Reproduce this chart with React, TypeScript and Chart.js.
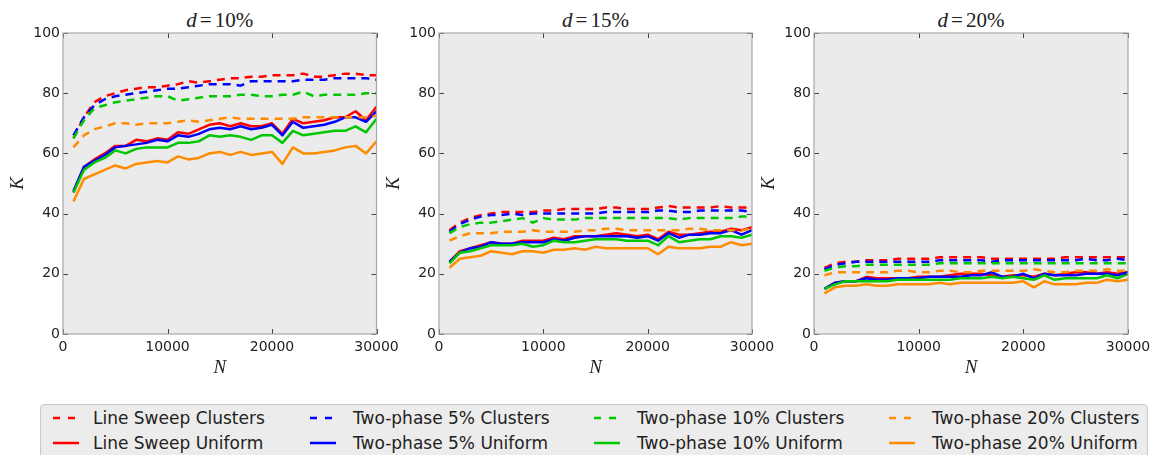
import React, { useEffect, useRef } from "react";
import { Chart, registerables } from "chart.js";

Chart.register(...registerables);

// ---------- data ----------
const N_VALUES = [
  1000, 2000, 3000, 4000, 5000, 6000, 7000, 8000, 9000, 10000,
  11000, 12000, 13000, 14000, 15000, 16000, 17000, 18000, 19000, 20000,
  21000, 22000, 23000, 24000, 25000, 26000, 27000, 28000, 29000, 30000,
];

const SERIES_LABELS = [
  "Line Sweep Clusters",
  "Line Sweep Uniform",
  "Two-phase 5% Clusters",
  "Two-phase 5% Uniform",
  "Two-phase 10% Clusters",
  "Two-phase 10% Uniform",
  "Two-phase 20% Clusters",
  "Two-phase 20% Uniform",
];
const SERIES_COLORS = ["#ff0000", "#ff0000", "#0000ff", "#0000ff", "#00c800", "#00c800", "#ff8c00", "#ff8c00"];
const SERIES_DASHED = [true, false, true, false, true, false, true, false];

const PANEL_TITLES = ["10%", "15%", "20%"];
const X_TICKS = [0, 10000, 20000, 30000];
const Y_TICKS = [0, 20, 40, 60, 80, 100];

// d = 10%
const LS_CLUSTERS_10 = [65, 72, 77, 79, 80, 81, 81.5, 82, 82, 82.5, 83, 84, 83.5, 84, 84.5, 85, 85, 85.5, 85.5, 86, 86, 86, 86.5, 85.5, 85.5, 86, 86.5, 86.5, 86, 86];
const LS_UNIFORM_10 = [47, 55.5, 58, 60, 62.5, 62.5, 64.5, 64, 65, 64.5, 67, 66.5, 68, 69.5, 70, 69, 70, 69, 69, 70, 66.5, 71.5, 70, 70.5, 71, 72, 72, 74, 71, 75.5];
const TP5_CLUSTERS_10 = [66, 72, 76, 78, 79, 79.5, 80, 80.5, 81, 81.5, 81.5, 82, 82.5, 83, 83, 83, 82.5, 84, 84, 84, 84, 84, 84.5, 84.5, 84.5, 85, 85, 85, 85, 84.5];
const TP5_UNIFORM_10 = [47.5, 55.5, 57.5, 59.5, 62, 62.5, 63, 63.5, 64.5, 64, 66, 65.5, 66.5, 68, 68.5, 68, 69, 68, 68.5, 69.5, 66, 70.5, 68.5, 69, 69.5, 70.5, 72, 72, 70.5, 74];
const TP10_CLUSTERS_10 = [65, 71, 75, 76, 77, 77.5, 78, 78.5, 79, 79, 77.5, 78, 78.5, 79, 79, 79, 79.5, 79.5, 79, 79, 79.5, 79.5, 80.5, 79, 79.5, 79.5, 79.5, 79.5, 80, 80];
const TP10_UNIFORM_10 = [47, 54.5, 57, 58.5, 61, 60, 61.5, 62, 62, 62, 63.5, 63.5, 64, 66, 65.5, 66, 65.5, 64.5, 66, 66, 63.5, 67.5, 66, 66.5, 67, 67.5, 67.5, 69, 67, 71.5];
const TP20_CLUSTERS_10 = [62, 66, 68, 69, 70, 70, 69.5, 70, 70, 70, 70.5, 71, 70.5, 71, 71.5, 72, 71.5, 71.5, 71.5, 71.5, 71.5, 71.5, 72, 72, 72, 72, 72, 72, 72, 72.5];
const TP20_UNIFORM_10 = [44, 51.5, 53, 54.5, 56, 55, 56.5, 57, 57.5, 57, 59, 58, 58.5, 60, 60.5, 59.5, 60.5, 59.5, 60, 60.5, 56.5, 62, 60, 60, 60.5, 61, 62, 62.5, 60, 64];

// d = 15%
const LS_CLUSTERS_15 = [34.5, 37, 38.5, 39.5, 40, 40.5, 40.5, 40.5, 40.5, 41, 41, 41.5, 41.5, 41.5, 41.5, 42, 42, 41.5, 41.5, 41.5, 42, 42.5, 42, 42, 42, 42, 42.5, 42, 42, 42];
const LS_UNIFORM_15 = [24, 27.5, 28.5, 29.5, 30.5, 30, 30, 31, 31, 31, 32, 31.5, 32.5, 32.5, 32.5, 33, 33.5, 33, 32.5, 33, 31.5, 34, 33, 33, 33.5, 34, 34, 35, 34.5, 35.5];
const TP5_CLUSTERS_15 = [34, 36.5, 38, 39, 39.5, 39.5, 40, 39.5, 40, 40, 40, 40, 40, 40, 40, 40.5, 40.5, 40.5, 40.5, 40.5, 41, 41, 40.5, 40.5, 41, 41, 41, 41, 41, 40.5];
const TP5_UNIFORM_15 = [24, 27, 28.5, 29, 30.5, 30, 30, 30.5, 30.5, 30.5, 31.5, 31, 32, 32.5, 32.5, 32.5, 32.5, 32.5, 32, 32.5, 31, 33.5, 32, 33, 33, 33.5, 33.5, 34.5, 33, 34.5];
const TP10_CLUSTERS_15 = [33.5, 35.5, 36.5, 37, 37, 37.5, 38, 38.5, 37, 38.5, 38, 38, 38, 38.5, 38.5, 38.5, 38.5, 38.5, 38.5, 38.5, 38.5, 38.5, 38, 38.5, 38.5, 38.5, 38.5, 38.5, 39, 39];
const TP10_UNIFORM_15 = [23.5, 27, 27.5, 28.5, 29.5, 29.5, 29.5, 30, 29, 29.5, 31, 30.5, 30.5, 31, 31.5, 31.5, 31.5, 31, 31, 31, 29.5, 32.5, 30.5, 31, 31.5, 31.5, 32.5, 32.5, 32, 33];
const TP20_CLUSTERS_15 = [31, 32.5, 33.5, 33.5, 33.5, 34, 34, 34, 34.5, 34, 34, 34, 34, 34.5, 34.5, 35, 35, 34.5, 34.5, 34.5, 34.5, 34.5, 34.5, 35, 35, 34.5, 34.5, 34.5, 34.5, 35];
const TP20_UNIFORM_15 = [22, 25, 25.5, 26, 27.5, 27, 26.5, 27.5, 27.5, 27, 28, 28, 28.5, 28, 29, 28.5, 28.5, 28.5, 28.5, 28.5, 26.5, 29, 28.5, 28.5, 28.5, 29, 29, 30.5, 29.5, 30];

// d = 20%
const LS_CLUSTERS_20 = [22, 23.5, 24, 24, 24.5, 24.5, 24.5, 25, 25, 25, 25, 25.5, 25.5, 25.5, 25.5, 25.5, 25, 25, 25, 25, 25, 25, 25, 25.5, 25.5, 25.5, 25.5, 25.5, 25.5, 25.5];
const LS_UNIFORM_20 = [15, 17, 17.5, 17.5, 19, 18.5, 18.5, 18.5, 18.5, 19, 19, 19, 19.5, 20, 20, 20, 19.5, 19, 19.5, 19.5, 19, 20, 19.5, 20, 20.5, 20.5, 20, 20.5, 20, 20.5];
const TP5_CLUSTERS_20 = [21.5, 23, 23.5, 24, 24, 24, 24, 24, 24, 24, 24, 24.5, 24.5, 24.5, 24.5, 24.5, 24, 24.5, 24.5, 24.5, 24.5, 24.5, 24.5, 24.5, 24.5, 25, 24.5, 24.5, 25, 24.5];
const TP5_UNIFORM_20 = [15, 17, 17.5, 17.5, 18.5, 18, 18, 18.5, 18.5, 18.5, 19, 19, 19, 19, 19.5, 19.5, 20.5, 19, 19, 20, 18.5, 20, 19.5, 19.5, 19.5, 20, 20, 20, 19.5, 20.5];
const TP10_CLUSTERS_20 = [21, 22, 22.5, 22.5, 23, 23, 23, 23, 23, 23, 23, 23.5, 23.5, 23.5, 23.5, 23.5, 23.5, 23.5, 23.5, 23.5, 23.5, 23.5, 23.5, 23.5, 23.5, 23.5, 23.5, 23.5, 23.5, 23.5];
const TP10_UNIFORM_20 = [15, 16.5, 17.5, 17.5, 17.5, 17.5, 17.5, 18, 18, 18, 18, 18, 18, 18.5, 18.5, 18.5, 19, 18.5, 19, 18.5, 18, 19.5, 18, 18.5, 18.5, 18.5, 18.5, 19.5, 18.5, 20];
const TP20_CLUSTERS_20 = [19.5, 20.5, 20.5, 20.5, 20.5, 20.5, 20.5, 21, 21, 20.5, 20.5, 21, 21, 20.5, 20.5, 21, 21, 21, 21, 21, 21.5, 21, 20.5, 20.5, 21, 21, 21, 21.5, 21, 21];
const TP20_UNIFORM_20 = [13.5, 15.5, 16, 16, 16.5, 16, 16, 16.5, 16.5, 16.5, 16.5, 17, 16.5, 17, 17, 17, 17, 17, 17, 17.5, 15.5, 17.5, 16.5, 16.5, 16.5, 17, 17, 18, 17.5, 18];

const PANEL_SERIES = [
  [LS_CLUSTERS_10, LS_UNIFORM_10, TP5_CLUSTERS_10, TP5_UNIFORM_10, TP10_CLUSTERS_10, TP10_UNIFORM_10, TP20_CLUSTERS_10, TP20_UNIFORM_10],
  [LS_CLUSTERS_15, LS_UNIFORM_15, TP5_CLUSTERS_15, TP5_UNIFORM_15, TP10_CLUSTERS_15, TP10_UNIFORM_15, TP20_CLUSTERS_15, TP20_UNIFORM_15],
  [LS_CLUSTERS_20, LS_UNIFORM_20, TP5_CLUSTERS_20, TP5_UNIFORM_20, TP10_CLUSTERS_20, TP10_UNIFORM_20, TP20_CLUSTERS_20, TP20_UNIFORM_20],
];

// ---------- layout / style ----------
const W = 1155;
const H = 455;
const PLOT_TOP = 33;
const PLOT_BOTTOM = 334;
const PANEL_X = [
  [63, 376.5],
  [439, 752],
  [814, 1128],
];
const Y_AXIS_W = 56;
const X_AXIS_H = 45;
const BG = "#ebebeb";
const FRAME = "#a8a8a8";
const TICK_COLOR = "#444444";
const TEXT = "#222222";
const DASH = [8, 6];
const LINE_W = 2.5;

const framePlugin = {
  id: "mplFrame",
  beforeDatasetsDraw(chart: any) {
    const { ctx, chartArea: a } = chart;
    ctx.save();
    ctx.fillStyle = BG;
    ctx.fillRect(a.left, a.top, a.right - a.left, a.bottom - a.top);
    ctx.restore();
  },
  afterDatasetsDraw(chart: any) {
    const { ctx, chartArea: a, scales } = chart;
    ctx.save();
    ctx.strokeStyle = TICK_COLOR;
    ctx.lineWidth = 1;
    ctx.beginPath();
    const tl = 5;
    scales.x.ticks.forEach((t: any) => {
      const px = Math.round(scales.x.getPixelForValue(t.value)) + 0.5;
      ctx.moveTo(px, a.bottom);
      ctx.lineTo(px, a.bottom - tl);
      ctx.moveTo(px, a.top);
      ctx.lineTo(px, a.top + tl);
    });
    scales.y.ticks.forEach((t: any) => {
      const py = Math.round(scales.y.getPixelForValue(t.value)) + 0.5;
      ctx.moveTo(a.left, py);
      ctx.lineTo(a.left + tl, py);
      ctx.moveTo(a.right, py);
      ctx.lineTo(a.right - tl, py);
    });
    ctx.stroke();
    ctx.strokeStyle = FRAME;
    ctx.lineWidth = 1.2;
    ctx.strokeRect(a.left, a.top, a.right - a.left, a.bottom - a.top);
    ctx.restore();
  },
};

function Panel({ index }: { index: number }) {
  const ref = useRef<HTMLCanvasElement | null>(null);
  useEffect(() => {
    if (!ref.current) return;
    const [left, right] = PANEL_X[index];
    const series = PANEL_SERIES[index];
    const datasets = series
      .map((vals, i) => ({
        label: SERIES_LABELS[i],
        data: vals.map((v, j) => ({ x: N_VALUES[j], y: v })),
        borderColor: SERIES_COLORS[i],
        backgroundColor: SERIES_COLORS[i],
        borderWidth: LINE_W,
        borderDash: SERIES_DASHED[i] ? DASH : [],
        pointRadius: 0,
        tension: 0,
        fill: false,
        borderCapStyle: "butt",
        borderJoinStyle: "round",
      }))
      .reverse();
    const chart = new Chart(ref.current, {
      type: "line",
      data: { datasets } as any,
      options: {
        animation: false,
        responsive: false,
        devicePixelRatio: 1,
        events: [],
        layout: {
          padding: {
            left: left - Y_AXIS_W,
            right: W - right,
            top: PLOT_TOP,
            bottom: H - PLOT_BOTTOM - X_AXIS_H,
          },
        },
        plugins: { legend: { display: false }, tooltip: { enabled: false }, title: { display: false } },
        scales: {
          x: {
            type: "linear",
            min: 0,
            max: 30000,
            afterBuildTicks: (s: any) => {
              s.ticks = X_TICKS.map((v) => ({ value: v }));
            },
            afterFit: (s: any) => {
              s.height = X_AXIS_H;
              s.paddingLeft = 0;
              s.paddingRight = 0;
            },
            grid: { display: false, drawTicks: false },
            border: { display: false },
            ticks: {
              padding: 5,
              maxRotation: 0,
              color: TEXT,
              font: { family: "DejaVu Sans", size: 14 },
              callback: (v: any) => String(v),
            },
            title: {
              display: true,
              text: "N",
              color: TEXT,
              padding: 0,
              font: { family: "Liberation Serif", style: "italic", size: 19 },
            },
          },
          y: {
            type: "linear",
            min: 0,
            max: 100,
            afterBuildTicks: (s: any) => {
              s.ticks = Y_TICKS.map((v) => ({ value: v }));
            },
            afterFit: (s: any) => {
              s.width = Y_AXIS_W;
              s.paddingTop = 0;
              s.paddingBottom = 0;
            },
            grid: { display: false, drawTicks: false },
            border: { display: false },
            ticks: {
              padding: 3,
              color: TEXT,
              font: { family: "DejaVu Sans", size: 14 },
              callback: (v: any) => String(v),
            },
            title: {
              display: true,
              text: "K",
              color: TEXT,
              padding: 0,
              font: { family: "Liberation Serif", style: "italic", size: 19 },
            },
          },
        },
      } as any,
      plugins: [framePlugin],
    });
    return () => chart.destroy();
  }, [index]);
  return (
    <canvas
      ref={ref}
      width={W}
      height={H}
      style={{ position: "absolute", left: 0, top: 0, width: W, height: H }}
    />
  );
}

function Handle({ color, dashed }: { color: string; dashed: boolean }) {
  return (
    <svg width={26} height={10} style={{ display: "block" }}>
      <line
        x1={0}
        y1={5}
        x2={26}
        y2={5}
        stroke={color}
        strokeWidth={LINE_W}
        strokeDasharray={dashed ? "7 8" : undefined}
      />
    </svg>
  );
}

const LEGEND_COLS = [[12, 52], [269, 312], [553, 596], [848, 891]];

function Legend() {
  return (
    <div
      style={{
        position: "absolute",
        left: 40,
        top: 404,
        width: 1108,
        height: 70,
        background: "#ececec",
        border: "1px solid #c8c8c8",
        borderRadius: 4,
        boxSizing: "border-box",
      }}
    >
      {SERIES_LABELS.map((label, i) => {
        const col = Math.floor(i / 2);
        const row = i % 2;
        const [hx, tx] = LEGEND_COLS[col];
        const cy = row === 0 ? 13 : 38;
        return (
          <React.Fragment key={label}>
            <div style={{ position: "absolute", left: hx, top: cy - 5 }}>
              <Handle color={SERIES_COLORS[i]} dashed={SERIES_DASHED[i]} />
            </div>
            <div
              style={{
                position: "absolute",
                left: tx,
                top: cy - 12,
                height: 24,
                lineHeight: "24px",
                fontFamily: "DejaVu Sans",
                fontSize: 17,
                color: TEXT,
                whiteSpace: "nowrap",
              }}
            >
              {label}
            </div>
          </React.Fragment>
        );
      })}
    </div>
  );
}

export default function App() {
  return (
    <div
      style={{
        position: "absolute",
        left: 0,
        top: 0,
        width: W,
        height: H,
        overflow: "hidden",
        background: "#ffffff",
      }}
    >
      {PANEL_TITLES.map((t, i) => {
        const [left, right] = PANEL_X[i];
        return (
          <div
            key={t}
            style={{
              position: "absolute",
              left,
              top: 7,
              width: right - left,
              height: 26,
              lineHeight: "26px",
              textAlign: "center",
              fontFamily: "Liberation Serif",
              fontSize: 21,
              color: TEXT,
              whiteSpace: "nowrap",
            }}
          >
            <i>d</i>
            <span style={{ margin: "0 3px" }}>=</span>
            {t}
          </div>
        );
      })}
      {[0, 1, 2].map((i) => (
        <Panel key={i} index={i} />
      ))}
      <Legend />
    </div>
  );
}
